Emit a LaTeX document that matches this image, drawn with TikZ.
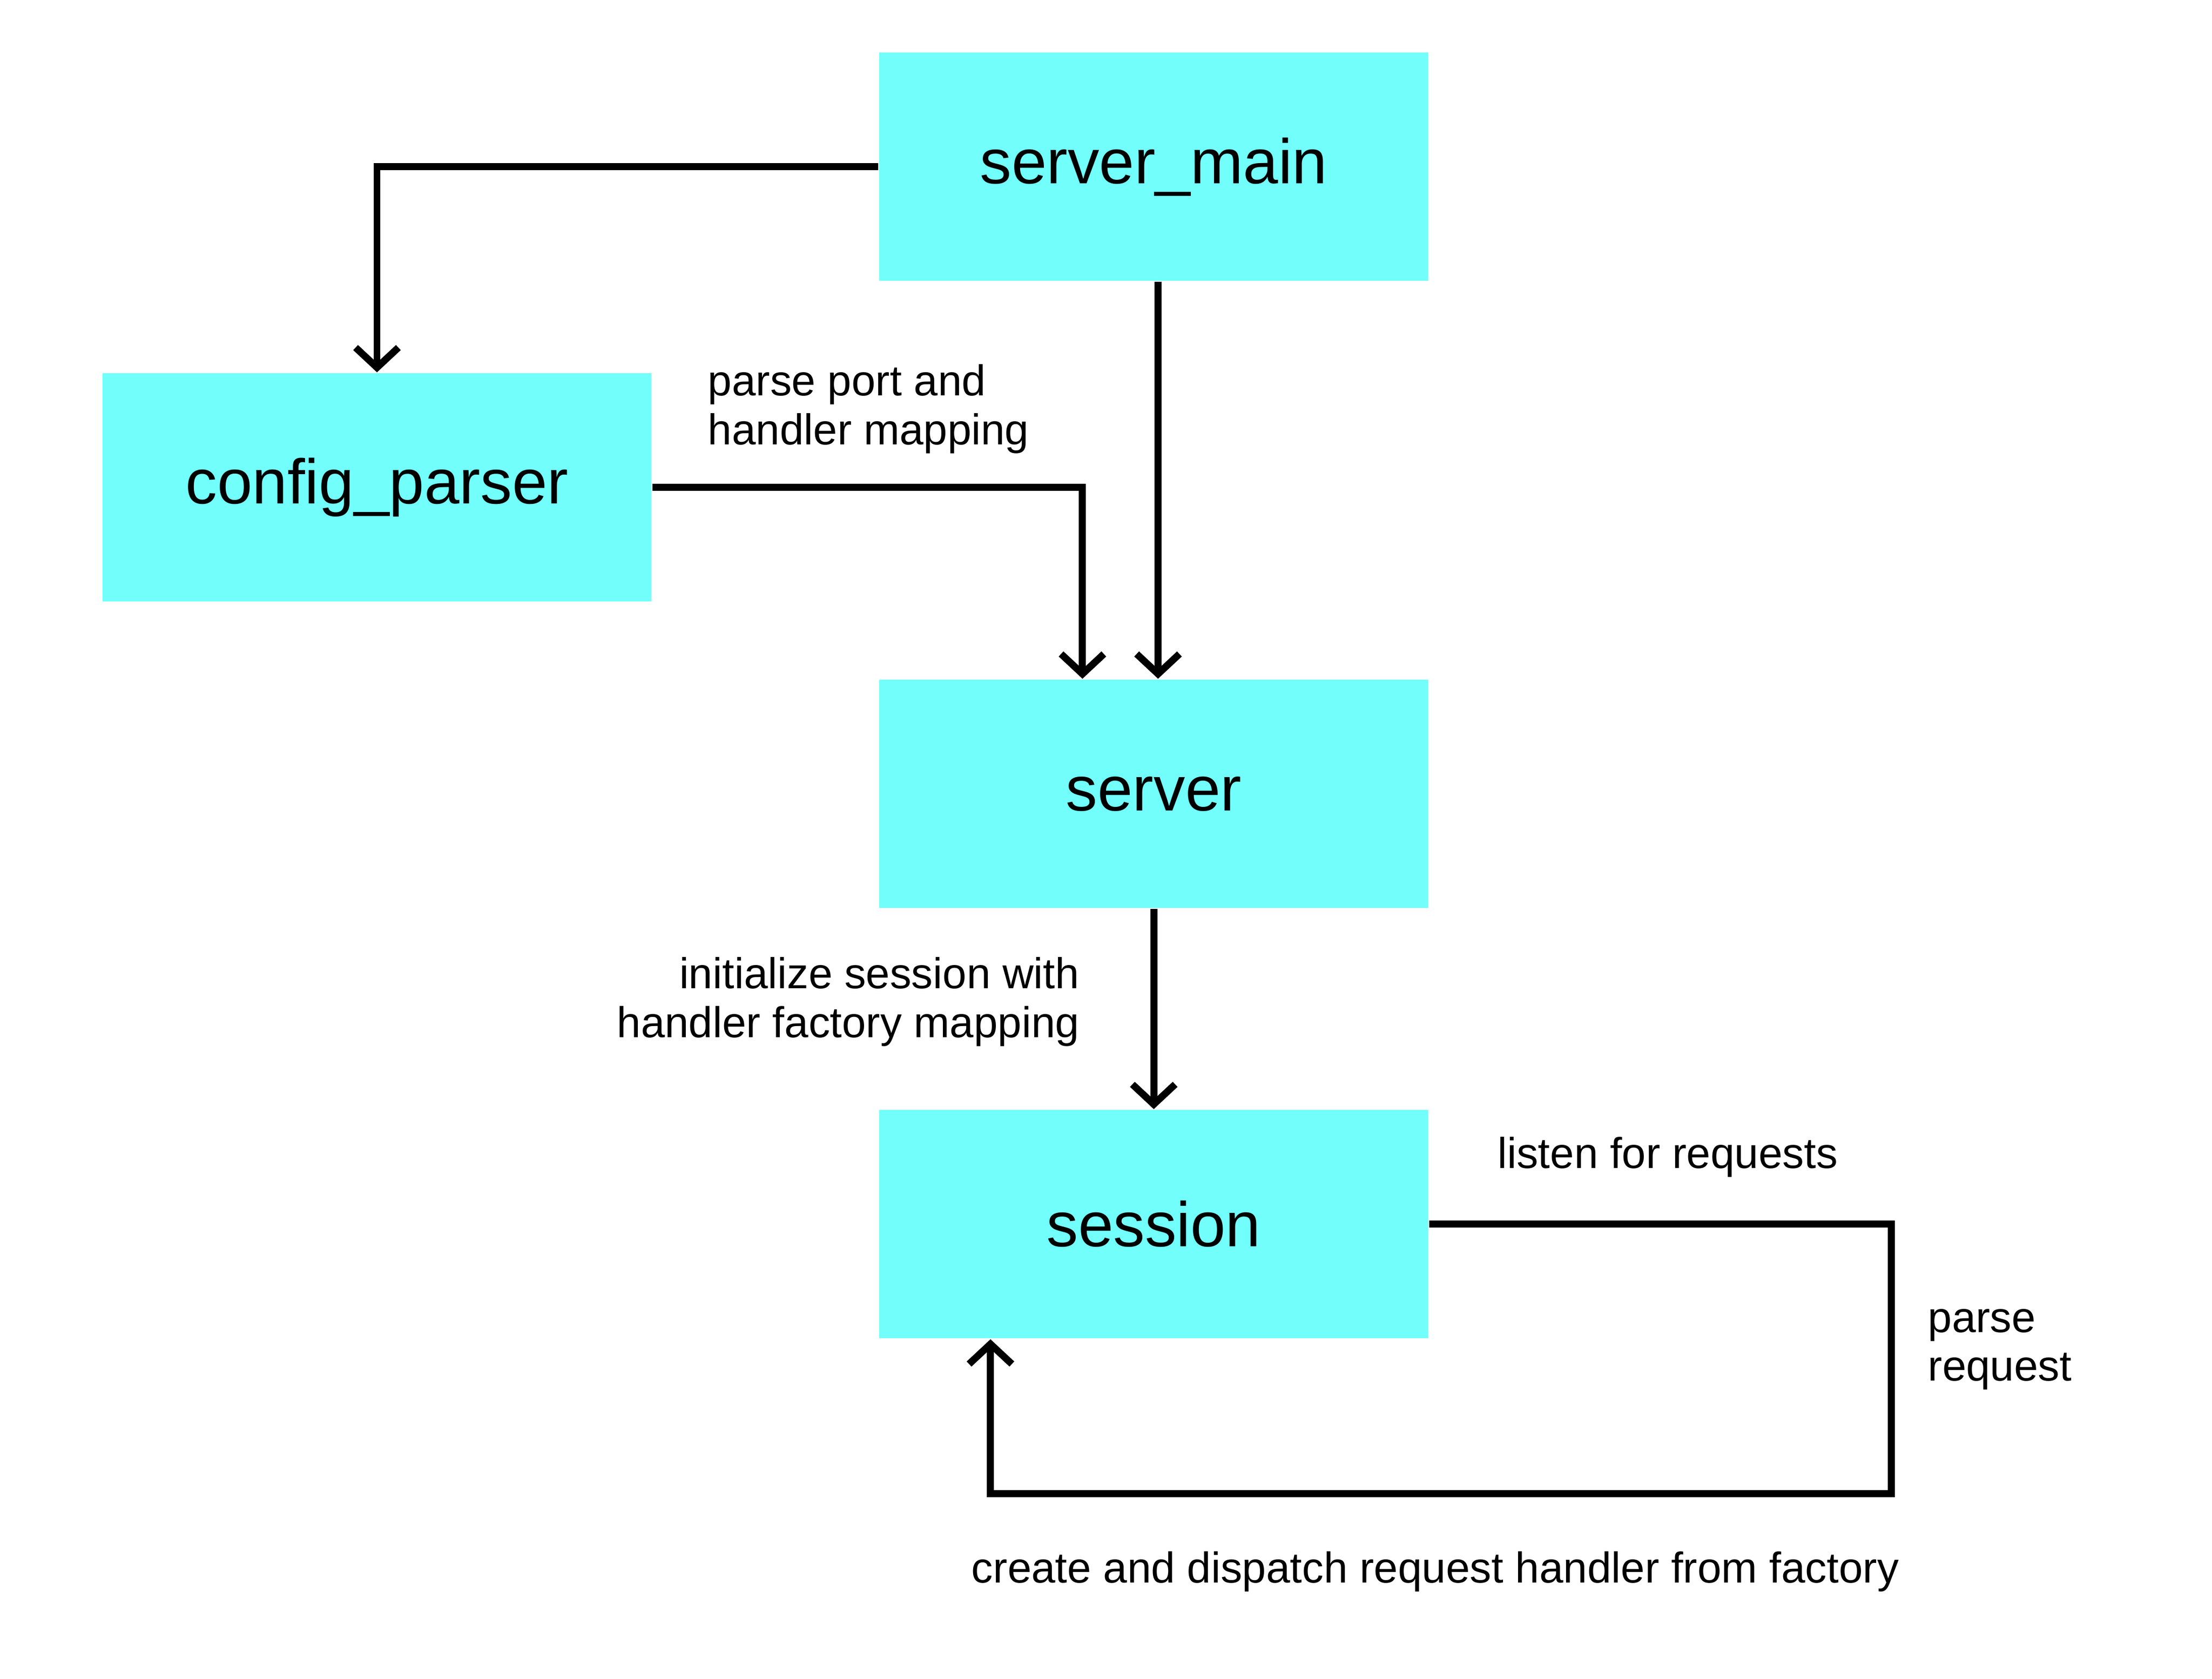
\documentclass[tikz,border=0pt]{standalone}
\usepackage{fontspec}
\setmainfont{Liberation Sans}
\usetikzlibrary{arrows.meta}
\definecolor{boxcyan}{RGB}{114,255,252}
\tikzset{
  block/.style={fill=boxcyan, minimum width=3.85cm, minimum height=1.6cm, inner sep=0pt, font=\fontsize{12.6}{15}\selectfont},
  link/.style={line width=1.4pt, -{Straight Barb[length=1.4mm,width=3mm]}},
  note/.style={inner sep=0pt, font=\fontsize{8.6}{9.7}\selectfont}
}
\begin{document}
\begin{tikzpicture}[x=0.01cm,y=-0.01cm]
    \useasboundingbox (0,0) rectangle (1552,1178);
    \node[block] (main) at (809.5,117) {server\_main};
    \node[block] (parser) at (264.5,342) {config\_parser};
    \node[block] (server) at (809.5,557) {server};
    \node[block] (session) at (809.5,859) {session};
    \coordinate (loop) at (1327,1048);
    \draw[link] (main.west) -| (parser.north);
    \draw[link] (parser.east) -| ([xshift=-0.5cm]server.north);
    \draw[link] ([xshift=0.03cm]main.south) -- ([xshift=0.03cm]server.north);
    \draw[link] (server.south) -- (session.north);
    \draw[link] (session.east) -| (loop) -| ([xshift=-1.145cm]session.south);
    \node[note, anchor=west, align=left] (portlbl) at (496,287) {parse port and\\handler mapping};
    \node[note, anchor=east, align=right] (initlbl) at (758,703) {initialize session with\\handler factory mapping};
    \node[note, anchor=west] (listenlbl) at (1050,812) {listen for requests};
    \node[note, anchor=west, align=left] (parselbl) at (1352,947) {parse\\request};
    \node[note, anchor=west] (createlbl) at (681,1103) {create and dispatch request handler from factory};
\end{tikzpicture}
\end{document}
